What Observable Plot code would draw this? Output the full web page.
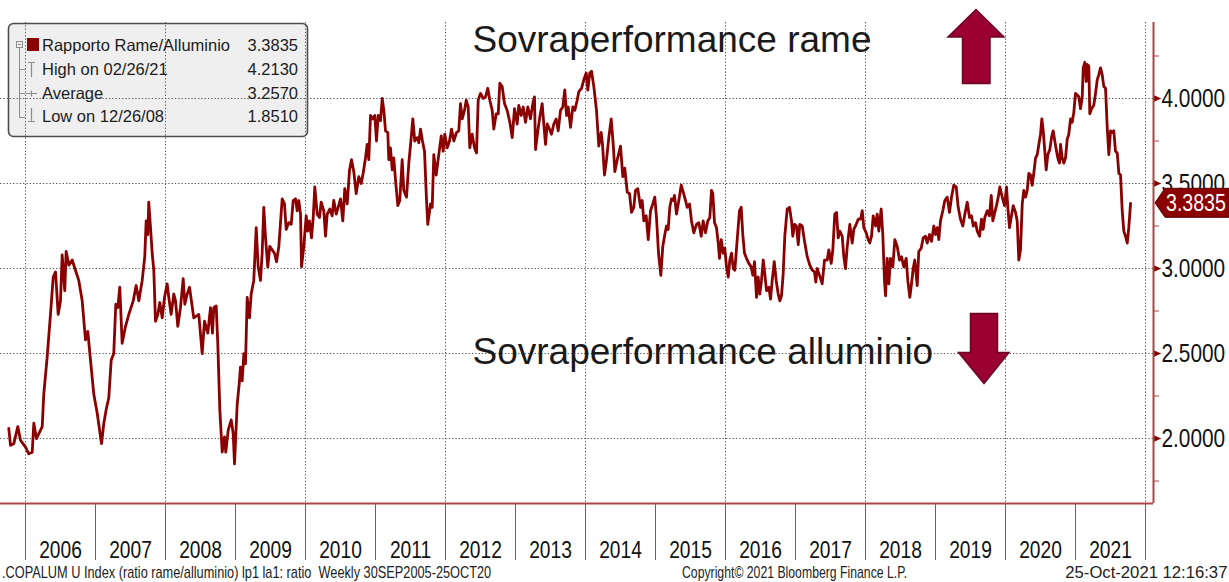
<!DOCTYPE html>
<html>
<head>
<meta charset="utf-8">
<script src="https://cdn.jsdelivr.net/npm/d3@7"></script>
<script src="https://cdn.jsdelivr.net/npm/@observablehq/plot@0.6"></script>
<style>
  html, body { margin: 0; padding: 0; background: #fff; }
  #wrap { position: relative; width: 1229px; height: 582px; overflow: hidden; background: #fff; }
  #wrap > svg { position: absolute; left: 0; top: 0; }
  .foot { position: absolute; top: 564px; font-family: 'Liberation Sans', Arial, sans-serif; font-size: 17px; color: #222; white-space: pre; line-height: 18px; }
</style>
</head>
<body>
<div id="wrap"></div>
<script>
// ---- Data ----
// time as decimal years, weekly series 30 Sep 2005 – 25 Oct 2021
const dates = [
2005.761,2005.786,2005.833,2005.890,2005.929,2006.000,2006.047,2006.096,2006.119,2006.157,
2006.239,2006.261,2006.310,2006.357,2006.396,2006.429,2006.467,2006.500,2006.524,2006.561,
2006.581,2006.619,2006.667,2006.714,2006.761,2006.810,2006.857,2006.890,2006.929,2006.976,
2007.024,2007.086,2007.119,2007.157,2007.190,2007.224,2007.261,2007.290,2007.319,2007.347,
2007.381,2007.429,2007.476,2007.539,2007.581,2007.619,2007.667,2007.704,2007.724,2007.747,
2007.761,2007.786,2007.810,2007.833,2007.857,2007.890,2007.919,2007.953,2007.986,2008.024,
2008.047,2008.081,2008.119,2008.143,2008.176,2008.214,2008.253,2008.276,2008.310,2008.343,
2008.404,2008.476,2008.524,2008.557,2008.604,2008.643,2008.671,2008.690,2008.724,2008.747,
2008.776,2008.810,2008.843,2008.861,2008.896,2008.939,2008.967,2008.986,2009.024,2009.057,
2009.071,2009.096,2009.119,2009.143,2009.167,2009.200,2009.224,2009.261,2009.296,2009.324,
2009.357,2009.381,2009.404,2009.429,2009.461,2009.490,2009.524,2009.557,2009.586,2009.619,
2009.667,2009.700,2009.724,2009.761,2009.796,2009.824,2009.857,2009.881,2009.904,2009.929,
2009.943,2009.976,2010.010,2010.033,2010.057,2010.086,2010.110,2010.133,2010.167,2010.200,
2010.224,2010.261,2010.286,2010.310,2010.347,2010.381,2010.404,2010.439,2010.467,2010.500,
2010.533,2010.561,2010.596,2010.629,2010.657,2010.690,2010.724,2010.761,2010.796,2010.824,
2010.857,2010.881,2010.904,2010.929,2010.961,2010.990,2011.014,2011.039,2011.071,2011.096,
2011.119,2011.143,2011.176,2011.190,2011.214,2011.239,2011.261,2011.286,2011.319,2011.347,
2011.381,2011.404,2011.443,2011.476,2011.510,2011.533,2011.561,2011.596,2011.619,2011.643,
2011.671,2011.700,2011.729,2011.747,2011.786,2011.810,2011.833,2011.867,2011.904,2011.939,
2011.967,2011.990,2012.024,2012.057,2012.086,2012.119,2012.157,2012.190,2012.214,2012.239,
2012.271,2012.296,2012.324,2012.347,2012.381,2012.414,2012.443,2012.467,2012.500,2012.539,
2012.571,2012.604,2012.633,2012.667,2012.690,2012.724,2012.753,2012.776,2012.810,2012.843,
2012.881,2012.919,2012.953,2012.986,2013.024,2013.047,2013.081,2013.110,2013.143,2013.176,
2013.214,2013.247,2013.271,2013.286,2013.319,2013.347,2013.381,2013.404,2013.429,2013.453,
2013.486,2013.514,2013.547,2013.581,2013.610,2013.643,2013.676,2013.704,2013.729,2013.753,
2013.786,2013.819,2013.847,2013.881,2013.904,2013.943,2013.976,2014.010,2014.033,2014.061,
2014.086,2014.119,2014.157,2014.190,2014.224,2014.243,2014.271,2014.300,2014.333,2014.367,
2014.396,2014.419,2014.453,2014.500,2014.533,2014.561,2014.596,2014.629,2014.657,2014.690,
2014.714,2014.747,2014.786,2014.810,2014.833,2014.867,2014.896,2014.929,2014.961,2014.990,
2015.014,2015.043,2015.076,2015.104,2015.133,2015.157,2015.181,2015.204,2015.229,2015.253,
2015.271,2015.300,2015.333,2015.367,2015.396,2015.429,2015.453,2015.486,2015.514,2015.547,
2015.586,2015.619,2015.653,2015.681,2015.714,2015.747,2015.776,2015.800,2015.819,2015.843,
2015.871,2015.896,2015.914,2015.939,2015.967,2015.990,2016.014,2016.039,2016.061,2016.086,
2016.110,2016.133,2016.167,2016.200,2016.224,2016.247,2016.271,2016.300,2016.333,2016.367,
2016.390,2016.414,2016.443,2016.467,2016.490,2016.514,2016.539,2016.561,2016.586,2016.619,
2016.643,2016.667,2016.696,2016.724,2016.753,2016.776,2016.800,2016.824,2016.847,2016.881,
2016.914,2016.943,2016.961,2016.986,2017.014,2017.039,2017.061,2017.096,2017.129,2017.167,
2017.204,2017.239,2017.271,2017.290,2017.310,2017.343,2017.381,2017.414,2017.453,2017.476,
2017.510,2017.533,2017.561,2017.586,2017.610,2017.633,2017.667,2017.690,2017.714,2017.739,
2017.776,2017.810,2017.833,2017.867,2017.896,2017.929,2017.953,2017.976,2018.010,2018.039,
2018.061,2018.086,2018.110,2018.143,2018.167,2018.190,2018.224,2018.247,2018.271,2018.286,
2018.310,2018.333,2018.357,2018.390,2018.419,2018.453,2018.486,2018.514,2018.547,2018.581,
2018.604,2018.633,2018.657,2018.681,2018.704,2018.739,2018.761,2018.796,2018.824,2018.857,
2018.881,2018.914,2018.943,2018.976,2019.000,2019.024,2019.047,2019.071,2019.104,2019.133,
2019.167,2019.200,2019.229,2019.261,2019.296,2019.324,2019.357,2019.390,2019.419,2019.453,
2019.486,2019.514,2019.539,2019.571,2019.596,2019.629,2019.657,2019.681,2019.704,2019.739,
2019.771,2019.796,2019.819,2019.847,2019.871,2019.896,2019.919,2019.953,2019.986,2020.014,
2020.033,2020.057,2020.081,2020.110,2020.143,2020.167,2020.190,2020.214,2020.239,2020.261,
2020.286,2020.310,2020.333,2020.357,2020.381,2020.404,2020.429,2020.453,2020.476,2020.500,
2020.519,2020.539,2020.561,2020.581,2020.604,2020.633,2020.657,2020.681,2020.704,2020.729,
2020.747,2020.771,2020.786,2020.810,2020.833,2020.857,2020.881,2020.904,2020.929,2020.953,
2020.976,2021.000,2021.024,2021.047,2021.071,2021.096,2021.110,2021.133,2021.153,2021.167,
2021.190,2021.204,2021.229,2021.261,2021.286,2021.310,2021.333,2021.357,2021.381,2021.404,
2021.429,2021.453,2021.476,2021.500,2021.524,2021.547,2021.571,2021.596,2021.619,2021.643,
2021.667,2021.690,2021.714,2021.739,2021.761,2021.786
];
const ratio = [
2.06,1.96,1.97,2.07,1.99,1.95,1.91,1.92,2.09,2.00,
2.07,2.26,2.48,2.73,2.95,2.98,2.73,2.81,3.08,2.87,
3.10,3.02,3.05,2.99,2.93,2.81,2.58,2.63,2.46,2.26,
2.15,1.97,2.09,2.18,2.24,2.46,2.50,2.79,2.77,2.89,
2.56,2.66,2.73,2.81,2.90,2.81,2.93,3.07,3.28,3.20,
3.39,3.24,3.09,2.99,2.69,2.73,2.80,2.71,2.83,2.91,
2.83,2.73,2.85,2.81,2.66,2.77,2.94,2.79,2.85,2.89,
2.71,2.73,2.50,2.69,2.62,2.77,2.62,2.77,2.78,2.56,
2.17,1.92,2.01,1.92,2.05,2.11,2.03,1.851,2.20,2.34,
2.42,2.34,2.50,2.44,2.83,2.71,2.85,2.93,3.24,3.01,
2.93,3.09,3.36,3.18,3.01,3.13,3.11,3.09,3.04,3.13,
3.41,3.38,3.23,3.27,3.26,3.40,3.41,3.34,3.40,3.32,
3.01,3.13,3.31,3.22,3.28,3.18,3.30,3.48,3.32,3.30,
3.39,3.34,3.19,3.32,3.35,3.31,3.40,3.32,3.36,3.41,
3.28,3.47,3.38,3.58,3.64,3.57,3.44,3.54,3.50,3.56,
3.65,3.73,3.64,3.90,3.88,3.90,3.75,3.90,3.87,4.00,
3.93,3.81,3.80,3.64,3.71,3.58,3.65,3.52,3.37,3.40,
3.64,3.46,3.42,3.62,3.77,3.88,3.75,3.77,3.74,3.82,
3.75,3.69,3.40,3.26,3.38,3.36,3.67,3.55,3.67,3.78,
3.69,3.79,3.71,3.75,3.82,3.75,3.80,3.81,3.97,3.88,
3.93,3.99,3.95,3.71,3.79,3.71,3.68,3.99,4.03,4.00,
4.01,4.06,3.99,3.93,3.82,3.91,3.91,4.09,4.07,3.97,
3.93,3.86,3.77,3.94,3.85,3.96,3.90,3.95,3.86,3.95,
3.88,3.97,4.01,3.70,3.81,3.89,3.97,3.85,3.73,3.85,
3.82,3.79,3.85,3.88,3.81,3.93,3.95,4.05,3.90,3.95,
3.83,3.95,3.93,3.99,4.04,4.06,4.11,4.15,4.05,4.15,
4.16,4.07,3.93,3.72,3.80,3.73,3.55,3.64,3.77,3.88,
3.73,3.57,3.64,3.72,3.54,3.59,3.45,3.44,3.33,3.36,
3.46,3.47,3.36,3.40,3.28,3.31,3.17,3.34,3.38,3.42,
3.30,3.09,2.96,3.13,3.20,3.25,3.23,3.36,3.41,3.40,
3.43,3.32,3.40,3.49,3.45,3.40,3.36,3.38,3.28,3.21,
3.26,3.27,3.19,3.28,3.21,3.28,3.30,3.46,3.44,3.27,
3.24,3.15,3.06,3.17,3.09,3.12,3.01,2.95,3.05,3.09,
3.00,2.99,3.17,3.34,3.36,3.20,3.09,3.06,3.03,3.01,
2.96,3.04,2.83,2.95,2.85,2.93,3.05,2.97,2.87,2.89,
2.82,2.93,3.04,2.93,2.85,2.81,2.84,2.97,3.19,3.35,
3.36,3.28,3.19,3.26,3.25,3.14,3.26,3.25,3.16,3.07,
3.02,2.99,2.98,2.92,3.00,2.96,2.91,3.05,3.05,3.11,
3.03,3.11,3.32,3.33,3.18,3.22,3.19,3.07,3.00,3.13,
3.26,3.15,3.23,3.26,3.29,3.29,3.34,3.24,3.21,3.17,
3.15,3.19,3.31,3.25,3.32,3.22,3.35,3.20,2.93,2.84,
3.06,2.91,3.06,3.01,3.17,3.13,3.05,3.07,3.01,3.06,
2.93,2.83,2.91,3.00,3.05,2.90,3.10,3.12,3.18,3.19,
3.15,3.20,3.16,3.25,3.20,3.24,3.17,3.28,3.34,3.40,
3.42,3.33,3.42,3.49,3.48,3.36,3.29,3.25,3.32,3.39,
3.30,3.31,3.25,3.27,3.22,3.19,3.29,3.23,3.30,3.34,
3.31,3.43,3.28,3.33,3.37,3.42,3.48,3.42,3.37,3.48,
3.36,3.24,3.30,3.37,3.33,3.28,3.05,3.11,3.38,3.46,
3.42,3.46,3.56,3.55,3.49,3.56,3.65,3.67,3.73,3.79,
3.88,3.81,3.69,3.58,3.67,3.70,3.77,3.81,3.75,3.69,
3.65,3.62,3.73,3.65,3.62,3.65,3.76,3.79,3.88,3.86,
3.92,4.03,4.02,4.01,3.94,4.01,4.18,4.213,4.10,4.20,
4.19,3.91,3.94,3.96,4.03,4.11,4.14,4.18,4.14,4.07,
4.06,3.83,3.67,3.81,3.80,3.81,3.69,3.68,3.56,3.55,
3.34,3.22,3.19,3.15,3.24,3.3835
];

const yearEdges = [2006,2007,2008,2009,2010,2011,2012,2013,2014,2015,2016,2017,2018,2019,2020,2021,2022];
const yearLabels = [2006,2007,2008,2009,2010,2011,2012,2013,2014,2015,2016,2017,2018,2019,2020,2021];
const gridYears = [2006,2008,2010,2012,2014,2016,2018,2020,2022];
const yTicks = [2.0, 2.5, 3.0, 3.5, 4.0];
const yMinor = [1.75, 2.25, 2.75, 3.25, 3.75, 4.25];

const legendLabels = ["Rapporto Rame/Alluminio", "High on 02/26/21", "Average", "Low on 12/26/08"];
const legendValues = ["3.3835", "4.2130", "3.2570", "1.8510"];
const lastValue = 3.3835;

const annotations = [
  {t: 2012.386, v: 4.341, label: "Sovraperformance rame"},
  {t: 2012.386, v: 2.506, label: "Sovraperformance alluminio"}
];

const footerLeft = ".COPALUM U Index (ratio rame/alluminio) lp1 la1: ratio  Weekly 30SEP2005-25OCT20";
const footerMid = "Copyright\u00A9 2021 Bloomberg Finance L.P.";
const footerRight = "25-Oct-2021 12:16:37";

// ---- Chart ----
const W = 1229, H = 564;
const frameColor = "#ad4444";
const lineColor = "#8b0000";
const sans = "'Liberation Sans', Arial, sans-serif";
const condense = 0.8; // Bloomberg axis font is condensed
const xDomain = [2005.643, 2022.114];
const yDomain = [1.618, 4.447];
const data = dates.map((t, i) => ({t, v: ratio[i]}));

const triRight = {
  draw(ctx, size) {
    const r = Math.sqrt(size / Math.PI);
    ctx.moveTo(0, -r);
    ctx.lineTo(2.3 * r, 0);
    ctx.lineTo(0, r);
    ctx.closePath();
  }
};

const chart = Plot.plot({
  width: W, height: H,
  marginLeft: 0, marginRight: 76, marginTop: 22, marginBottom: 61,
  x: {type: "linear", domain: xDomain, label: null},
  y: {type: "linear", domain: yDomain, label: null},
  style: {background: "transparent", overflow: "visible", fontFamily: sans},
  marks: [
    Plot.gridY(yTicks, {stroke: "#555", strokeOpacity: 1, strokeDasharray: "1.3,2", strokeWidth: 1}),
    Plot.gridX(gridYears, {stroke: "#555", strokeOpacity: 1, strokeDasharray: "1.3,2", strokeWidth: 1}),
    Plot.axisX(yearEdges, {anchor: "bottom", tickSize: 57, tickFormat: () => "", stroke: frameColor, strokeWidth: 1, label: null}),
    Plot.axisX(yearLabels.map(y => y + 0.5), {anchor: "bottom", tickSize: 0, tickPadding: 37, tickFormat: d => String(Math.floor(d)), fontSize: 24, fill: "#111", label: null}),
    Plot.axisY(yMinor, {anchor: "right", tickSize: 5, tickFormat: () => "", stroke: frameColor, label: null}),
    Plot.axisY(yTicks, {anchor: "right", tickSize: 0, tickPadding: 8, tickFormat: d => d.toFixed(4), fontSize: 26, fill: "#111", label: null}),
    Plot.dot(yTicks, {x: () => xDomain[1], y: d => d, symbol: triRight, r: 3.4, fill: lineColor, stroke: "none"}),
    Plot.ruleY([yDomain[0]], {stroke: frameColor, strokeWidth: 2}),
    Plot.ruleX([xDomain[1]], {stroke: frameColor, strokeWidth: 2}),
    Plot.line(data, {x: "t", y: "v", stroke: lineColor, strokeWidth: 2.8, strokeLinejoin: "round"}),
    Plot.text(annotations, {x: "t", y: "v", text: "label", textAnchor: "start", fontSize: 37, fontFamily: sans, fill: "#1a1a1a"})
  ]
});

// condense the axis tick labels horizontally (narrow Bloomberg face)
d3.select(chart).selectAll('g[aria-label="y-axis tick label"] text, g[aria-label="x-axis tick label"] text')
  .attr("transform", function () { return (this.getAttribute("transform") || "") + ` scale(${condense},1)`; });

const wrap = document.getElementById("wrap");
const ns = "http://www.w3.org/2000/svg";
function el(parent, tag, attrs, text) {
  const e = document.createElementNS(ns, tag);
  for (const k in attrs) e.setAttribute(k, attrs[k]);
  if (text != null) e.textContent = text;
  parent.appendChild(e);
  return e;
}

// underlay: legend panel background (gridlines show on top of it)
const under = el(wrap, "svg", {width: W, height: H});
el(under, "rect", {x: 8.5, y: 23.5, width: 299, height: 113, rx: 5, fill: "#efefef", stroke: "#4d4d4d", "stroke-width": 1.6});

wrap.appendChild(chart);

// overlay: legend contents, arrows, last-value tag
const over = el(wrap, "svg", {width: W, height: H});
const g = "#8c8c8c";
el(over, "rect", {x: 16.5, y: 41.5, width: 6, height: 6, fill: "none", stroke: g, "stroke-width": 1});
el(over, "line", {x1: 18, y1: 44.5, x2: 21, y2: 44.5, stroke: g});
el(over, "path", {d: "M19.5 48 V117.5 M19.5 69.5 H25 M19.5 93.5 H25 M19.5 117.5 H25", fill: "none", stroke: g, "stroke-width": 1});
el(over, "rect", {x: 27, y: 38, width: 12, height: 13, fill: "#8b0000"});
el(over, "path", {d: "M28 62.5 H35 M31.5 62.5 V77", stroke: g, "stroke-width": 1.2, fill: "none"});
el(over, "path", {d: "M26 93.5 H37 M31.5 90.5 V96.5", stroke: g, "stroke-width": 1.2, fill: "none"});
el(over, "path", {d: "M31.5 108 V121.5 M28 121.5 H35", stroke: g, "stroke-width": 1.2, fill: "none"});
const rowsY = [51, 75, 99, 122];
legendLabels.forEach((s, i) => {
  el(over, "text", {x: 42, y: rowsY[i], "font-family": sans, "font-size": 16.5, fill: "#1c1c1c"}, s);
  el(over, "text", {x: 298, y: rowsY[i], "text-anchor": "end", "font-family": sans, "font-size": 16.5, fill: "#1c1c1c"}, legendValues[i]);
});

// arrows
el(over, "polygon", {points: "976,9.5 1004,37 990,37 990,83.5 962.5,83.5 962.5,37 948,37", fill: "#9a0032", stroke: "#6b0622", "stroke-width": 1.5});
el(over, "polygon", {points: "970.5,313.5 997.5,313.5 997.5,352.5 1009,352.5 984,383.5 958.5,352.5 970.5,352.5", fill: "#9a0032", stroke: "#6b0622", "stroke-width": 1.5});

// last value tag
const yv = chart.scale("y").apply(lastValue);
const xr = chart.scale("x").apply(xDomain[1]);
el(over, "path", {d: `M${xr + 2} ${yv} L${xr + 12} ${yv - 14.5} H1229 V${yv + 14.5} H${xr + 12} Z`, fill: "#8b0000", stroke: "#5a0000", "stroke-width": 1});
el(over, "text", {transform: `translate(${xr + 13},${yv + 8.5}) scale(${condense},1)`, "font-family": sans, "font-size": 24.5, fill: "#fff"}, lastValue.toFixed(4));

// footer
function foot(text, style) {
  const d = document.createElement("div");
  d.className = "foot";
  d.textContent = text;
  Object.assign(d.style, style);
  wrap.appendChild(d);
}
foot(footerLeft, {left: "2px", transform: "scaleX(0.75)", transformOrigin: "0 0"});
foot(footerMid, {left: "682px", transform: "scaleX(0.72)", transformOrigin: "0 0"});
foot(footerRight, {right: "2px", transform: "scaleX(0.98)", transformOrigin: "100% 0"});
</script>
</body>
</html>
